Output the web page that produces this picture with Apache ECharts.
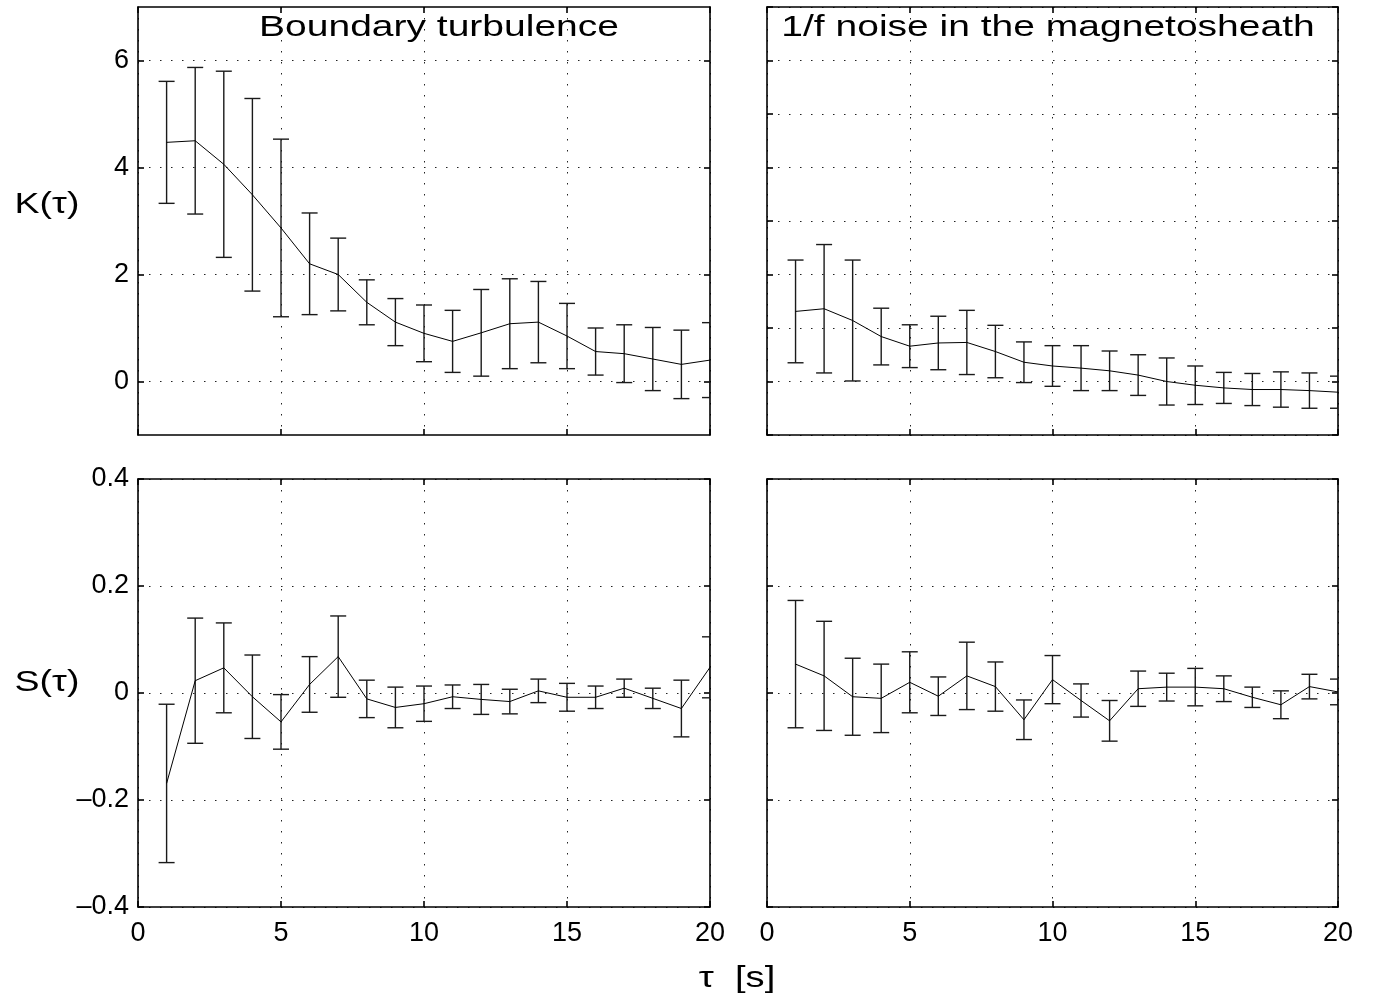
<!DOCTYPE html>
<html>
<head>
<meta charset="utf-8">
<script src="https://cdn.jsdelivr.net/npm/echarts@6/dist/echarts.min.js"></script>
<style>
  html, body { margin: 0; padding: 0; background: #fff; }
  #chart { width: 1379px; height: 1002px; }
</style>
</head>
<body>
<div id="chart"></div>
<script>
// lag tau [s]
const lags = [1, 2, 3, 4, 5, 6, 7, 8, 9, 10, 11, 12, 13, 14, 15, 16, 17, 18, 19, 20];

// kurtosis K(tau)
const kBoundaryMean = [4.47, 4.50, 4.06, 3.49, 2.87, 2.20, 2.00, 1.48, 1.11, 0.90, 0.75, 0.91, 1.08, 1.11, 0.85, 0.56, 0.52, 0.42, 0.32, 0.40];
const kBoundaryErr  = [1.14, 1.37, 1.74, 1.80, 1.66, 0.95, 0.68, 0.42, 0.44, 0.53, 0.58, 0.81, 0.84, 0.76, 0.61, 0.44, 0.54, 0.59, 0.64, 0.70];
const kNoiseMean = [1.31, 1.36, 1.14, 0.84, 0.66, 0.72, 0.73, 0.56, 0.36, 0.29, 0.25, 0.20, 0.12, 0.00, -0.07, -0.12, -0.15, -0.15, -0.17, -0.20];
const kNoiseErr  = [0.96, 1.20, 1.13, 0.53, 0.40, 0.50, 0.60, 0.49, 0.38, 0.38, 0.42, 0.37, 0.38, 0.44, 0.36, 0.29, 0.30, 0.33, 0.33, 0.30];

// skewness S(tau)
const sBoundaryMean = [-0.169, 0.023, 0.047, -0.007, -0.054, 0.016, 0.068, -0.011, -0.027, -0.020, -0.007, -0.012, -0.016, 0.004, -0.008, -0.008, 0.009, -0.010, -0.029, 0.048];
const sBoundaryErr  = [0.148, 0.117, 0.084, 0.078, 0.051, 0.052, 0.076, 0.035, 0.038, 0.033, 0.022, 0.028, 0.023, 0.022, 0.026, 0.021, 0.017, 0.019, 0.053, 0.057];
const sNoiseMean = [0.054, 0.032, -0.007, -0.010, 0.020, -0.006, 0.032, 0.012, -0.050, 0.025, -0.014, -0.052, 0.008, 0.011, 0.011, 0.008, -0.008, -0.022, 0.012, 0.002];
const sNoiseErr  = [0.119, 0.102, 0.072, 0.064, 0.057, 0.036, 0.063, 0.046, 0.037, 0.045, 0.031, 0.038, 0.033, 0.026, 0.035, 0.024, 0.019, 0.026, 0.023, 0.024];

// ticks
const xTicks = [0, 5, 10, 15, 20];
const kTicks = [0, 2, 4, 6];
const sTicks = [-0.4, -0.2, 0, 0.2, 0.4];

const FONT = '"Liberation Sans", Arial, Helvetica, sans-serif';
const frameStyle = { color: '#000', width: 1.6 };
const gridDots = { color: '#222', width: 1, type: [1.5, 9.5] };

const panels = [
  { left: 138, top: 7,   width: 572, height: 428, mean: kBoundaryMean, err: kBoundaryErr, kind: 'K', yLabels: true,  xLabels: false },
  { left: 767, top: 7,   width: 571, height: 428, mean: kNoiseMean,    err: kNoiseErr,    kind: 'K', yLabels: false, xLabels: false },
  { left: 138, top: 479, width: 572, height: 428, mean: sBoundaryMean, err: sBoundaryErr, kind: 'S', yLabels: true,  xLabels: true },
  { left: 767, top: 479, width: 571, height: 428, mean: sNoiseMean,    err: sNoiseErr,    kind: 'S', yLabels: false, xLabels: true }
];

const labelStyle = { color: '#000', fontSize: 27, fontFamily: FONT };

const fmtS = v => {
  if (Math.abs(v) < 1e-9) return '0';
  return (v < 0 ? '\u2013' : '') + Math.abs(v).toFixed(1);
};

const xAxes = [];
const yAxes = [];
panels.forEach((p, i) => {
  ['bottom', 'top'].forEach(pos => {
    const main = pos === 'bottom';
    xAxes.push({
      type: 'value', gridIndex: i, position: pos,
      min: 0, max: 20, interval: 5,
      axisLine: { show: true, onZero: false, lineStyle: frameStyle },
      axisTick: { show: true, inside: true, length: 6, lineStyle: frameStyle },
      axisLabel: {
        show: main && p.xLabels, margin: 13, ...labelStyle,
        customValues: xTicks
      },
      splitLine: { show: main, lineStyle: gridDots }
    });
  });
  ['left', 'right'].forEach(pos => {
    const main = pos === 'left';
    let ax;
    if (p.kind === 'K') {
      ax = { min: -1, max: 7 };
      if (p.yLabels) {
        ax.minInterval = 2; ax.maxInterval = 2;
        ax.axisTick = { customValues: kTicks };
      } else {
        ax.interval = 1;
        ax.axisTick = {};
      }
      ax.axisLabel = { show: main && p.yLabels, customValues: kTicks };
    } else {
      ax = { min: -0.4, max: 0.4, interval: 0.2, axisTick: {} };
      ax.axisLabel = { show: main && p.yLabels, customValues: sTicks, formatter: fmtS };
    }
    yAxes.push({
      type: 'value', gridIndex: i, position: pos,
      min: ax.min, max: ax.max, interval: ax.interval,
      minInterval: ax.minInterval, maxInterval: ax.maxInterval,
      axisLine: { show: true, onZero: false, lineStyle: frameStyle },
      axisTick: Object.assign({ show: true, inside: true, length: 6, lineStyle: frameStyle }, ax.axisTick),
      axisLabel: Object.assign({ margin: 9, ...labelStyle }, ax.axisLabel),
      splitLine: { show: main, lineStyle: gridDots }
    });
  });
});

function renderErrorBar(params, api) {
  const x = api.value(0);
  const lo = api.coord([x, api.value(1)]);
  const hi = api.coord([x, api.value(2)]);
  const cap = 8;
  const style = { stroke: '#1a1a1a', lineWidth: 1.4, fill: null };
  return {
    type: 'group',
    children: [
      { type: 'line', shape: { x1: lo[0], y1: lo[1], x2: hi[0], y2: hi[1] }, style: style },
      { type: 'line', shape: { x1: lo[0] - cap, y1: lo[1], x2: lo[0] + cap, y2: lo[1] }, style: style },
      { type: 'line', shape: { x1: hi[0] - cap, y1: hi[1], x2: hi[0] + cap, y2: hi[1] }, style: style }
    ]
  };
}

const series = [];
panels.forEach((p, i) => {
  series.push({
    type: 'custom',
    xAxisIndex: 2 * i, yAxisIndex: 2 * i,
    clip: true, silent: true,
    renderItem: renderErrorBar,
    encode: { x: 0, y: [1, 2] },
    data: lags.map((t, k) => [t, p.mean[k] - p.err[k], p.mean[k] + p.err[k]])
  });
  series.push({
    type: 'line',
    xAxisIndex: 2 * i, yAxisIndex: 2 * i,
    showSymbol: false, symbol: 'none', clip: true, silent: true,
    lineStyle: { color: '#000', width: 1 },
    data: lags.map((t, k) => [t, p.mean[k]])
  });
});

const bigText = (text, x, y, sx) => ({
  type: 'text', x: x, y: y, scaleX: sx, silent: true,
  style: { text: text, fill: '#000', fontSize: 30, fontFamily: FONT, align: 'center', verticalAlign: 'middle' }
});

const chart = echarts.init(document.getElementById('chart'));
chart.setOption({
  animation: false,
  backgroundColor: '#fff',
  grid: panels.map(p => ({ left: p.left, top: p.top, width: p.width, height: p.height, containLabel: false })),
  xAxis: xAxes,
  yAxis: yAxes,
  series: series,
  graphic: [
    bigText('Boundary turbulence', 439, 28, 1.3),
    bigText('1/f noise in the magnetosheath', 1048, 28, 1.3),
    bigText('K(\u03c4)', 47, 205, 1.25),
    bigText('S(\u03c4)', 47, 683, 1.25),
    bigText('\u03c4  [s]', 737, 979, 1.27)
  ]
});
</script>
</body>
</html>
